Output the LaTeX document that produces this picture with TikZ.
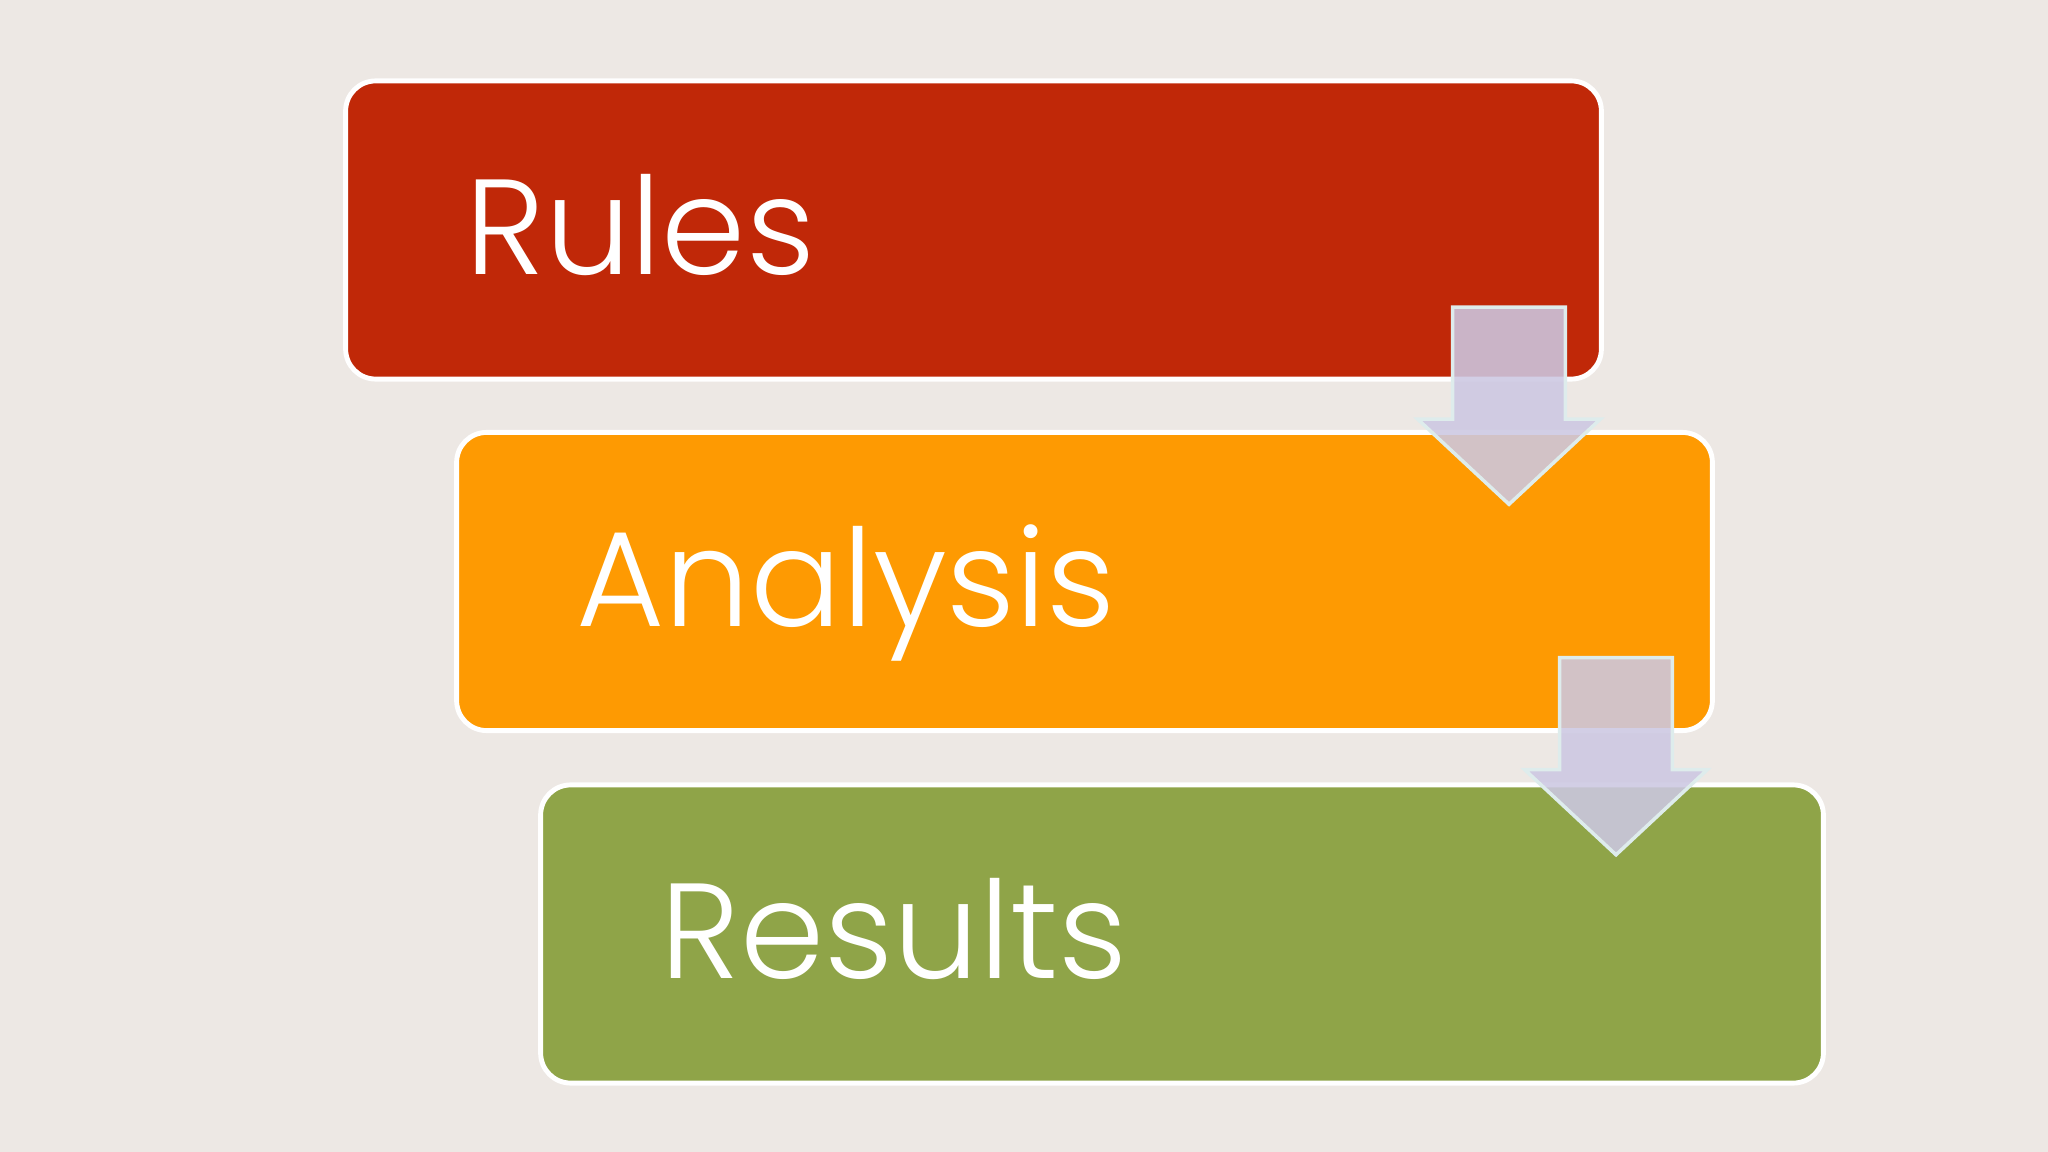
\documentclass[tikz,border=0pt]{standalone}
\usepackage{fontspec}
\setmainfont{Poppins Light}
\usetikzlibrary{arrows,positioning}
\usetikzlibrary{shapes.arrows}
\definecolor{paper}{RGB}{237,232,228}
\definecolor{rulesred}{RGB}{192,40,8}
\definecolor{analysisorange}{RGB}{254,154,2}
\definecolor{resultsgreen}{RGB}{143,164,72}
\definecolor{flowlilac}{RGB}{204,200,226}
\definecolor{flowrim}{RGB}{222,236,236}

\begin{document}
\begin{tikzpicture}[x=.01cm,y=-.01cm]%
                    \fill[paper] (0,0) rectangle (2048,1152); %%
                    \useasboundingbox (0,0) rectangle (2048,1152); %%
                    \begin{scope}
                        \tikzstyle{every node}=[draw=white,line width=1.4pt,rounded corners=.3cm,text=white,font=\fontsize{38.5}{46}\selectfont,minimum height=2.98cm,inner xsep=1.2cm,text height=1.2cm,text depth=.308cm,align=left];%%
                        \node[fill=rulesred,minimum width=12.55cm,text width=10.15cm] (rules) at (973.5,230) {Rules}; %%
                        \node[fill=analysisorange,minimum width=12.55cm,text width=10.15cm] (analysis) at (1084.5,581.5) {Analysis}; %%
                        \node[fill=resultsgreen,minimum width=12.82cm,text width=10.42cm] (results) at (1182,934) {Results}; %%
                    \end{scope}
                    \begin{scope}
                        \tikzstyle{every node}=[single arrow,shape border rotate=270,draw=flowrim,line width=1pt,fill=flowlilac,fill opacity=.88,inner sep=.545cm,minimum width=1.79cm,minimum height=1.97cm,single arrow head extend=.35cm,single arrow tip angle=94];%%
                        \node (flow1) at (1509,379.5) {}; %%
                        \node (flow2) at (1616,730) {}; %%
                    \end{scope}
                    \end{tikzpicture}
\end{document}
